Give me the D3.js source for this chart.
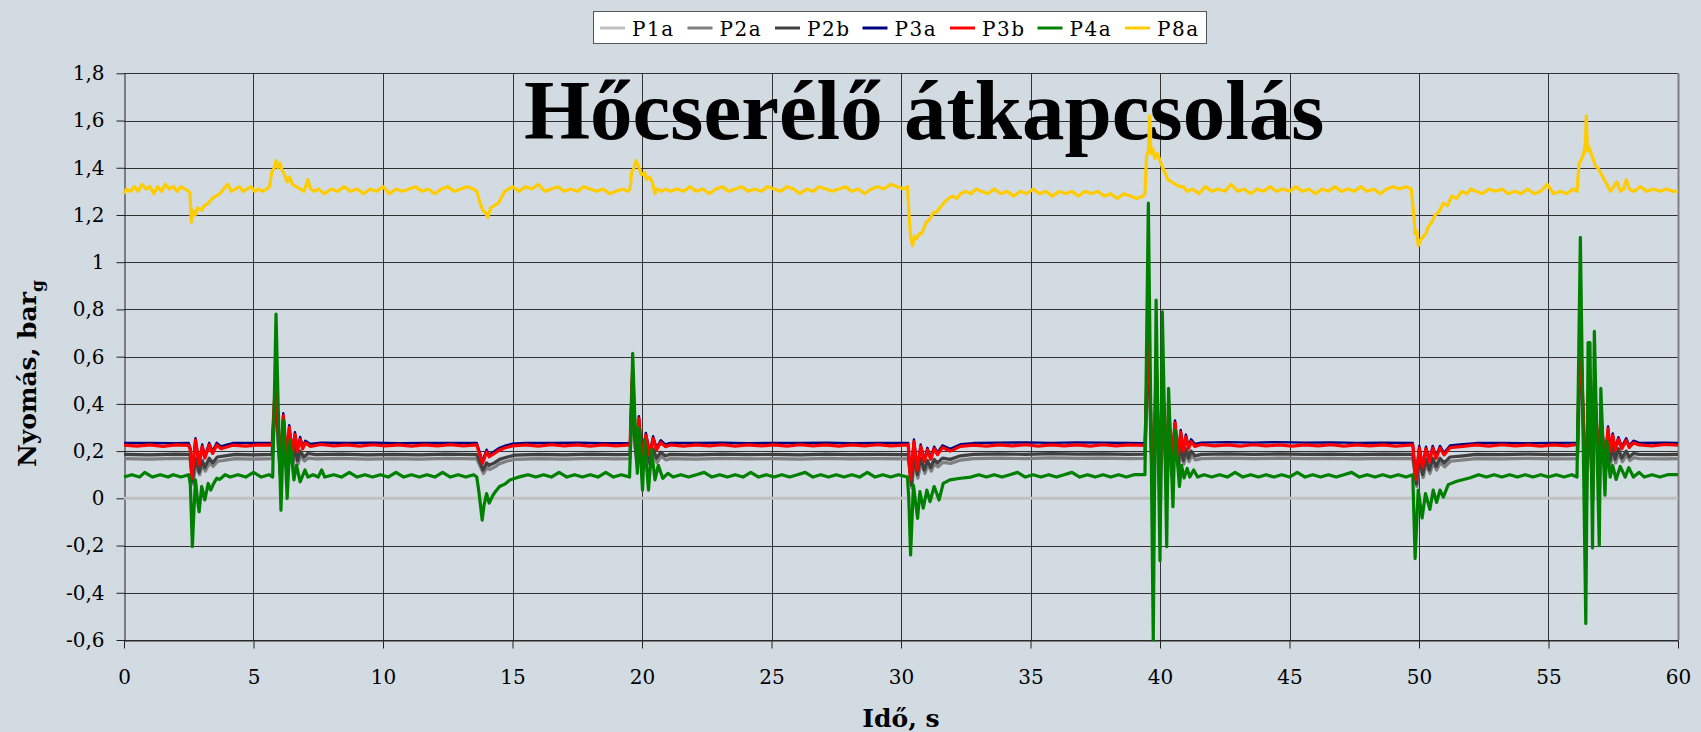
<!DOCTYPE html>
<html>
<head>
<meta charset="utf-8">
<script src="https://cdn.jsdelivr.net/npm/d3@7"></script>
<style>
  body { margin: 0; background: #d2dae2; }
  svg { display: block; }
</style>
</head>
<body>
<div id="chart"></div>
<script>
// series names and colours (legend order = drawing order)
var seriesNames = ["P1a", "P2a", "P2b", "P3a", "P3b", "P4a", "P8a"];
var seriesColors = ["#c0c0c0", "#808080", "#404040", "#000080", "#ff0000", "#008000", "#ffcc00"];
var seriesWidths = [3, 3.2, 3.2, 2.4, 3.2, 3.2, 3.2];

var xTicks = [0, 5, 10, 15, 20, 25, 30, 35, 40, 45, 50, 55, 60];
var yTicks = [-0.6, -0.4, -0.2, 0, 0.2, 0.4, 0.6, 0.8, 1, 1.2, 1.4, 1.6, 1.8];
var yTickLabels = ["-0,6", "-0,4", "-0,2", "0", "0,2", "0,4", "0,6", "0,8", "1", "1,2", "1,4", "1,6", "1,8"];

// [time s, pressure barg]
var p1a = [[0, 0], [60, 0]];

var p2a = [
[0,0.168],[1,0.166],[2,0.169],[2.55,0.168],
[2.66,0.06],[2.78,0.15],[2.92,0.1],[3.04,0.145],[3.14,0.115],[3.3,0.15],[3.44,0.135],[3.62,0.157],[3.92,0.162],[4.3,0.168],[5.0,0.166],[5.72,0.168],
[5.8,0.32],[5.87,0.42],[5.95,0.23],[6.05,0.09],[6.17,0.26],[6.3,0.11],[6.4,0.23],[6.52,0.135],[6.62,0.2],[6.72,0.145],[6.82,0.18],[6.97,0.158],[7.1,0.17],[7.4,0.167],
[8.4,0.169],[9.4,0.166],[10.4,0.168],[11.4,0.166],[12.4,0.169],[13.62,0.167],
[13.88,0.105],[14.02,0.13],[14.12,0.122],[14.32,0.133],[14.5,0.147],[14.8,0.158],[15.1,0.165],[16.0,0.168],[17.0,0.166],[18.0,0.169],[19.0,0.167],[19.54,0.168],
[19.6,0.37],[19.64,0.47],[19.72,0.23],[19.82,0.13],[19.9,0.27],[20.02,0.125],[20.17,0.2],[20.32,0.135],[20.45,0.19],[20.58,0.152],[20.74,0.178],[20.92,0.163],[21.1,0.168],
[22.1,0.166],[23.1,0.169],[24.1,0.167],[25.1,0.168],[26.1,0.166],[27.1,0.169],[28.1,0.167],[29.1,0.168],[30.28,0.167],
[30.42,0.045],[30.52,0.16],[30.65,0.085],[30.78,0.152],[30.92,0.105],[31.04,0.143],[31.17,0.115],[31.3,0.148],[31.43,0.133],[31.62,0.152],[31.92,0.148],[32.3,0.162],[32.8,0.168],
[33.8,0.17],[34.8,0.168],[35.8,0.171],[36.8,0.169],[37.8,0.17],[38.8,0.168],[39.42,0.169],
[39.57,0.66],[39.67,0.23],[39.76,-0.1],[39.87,0.5],[40.02,-0.03],[40.11,0.46],[40.28,0.01],[40.35,0.32],[40.47,0.09],[40.6,0.25],[40.72,0.125],[40.82,0.21],[40.92,0.145],[41.02,0.19],[41.12,0.155],[41.22,0.182],[41.37,0.163],[41.6,0.168],
[42.6,0.17],[43.6,0.168],[44.6,0.17],[45.6,0.168],[46.6,0.169],[47.6,0.167],[48.6,0.169],[49.76,0.168],
[49.92,0.05],[50.03,0.152],[50.16,0.088],[50.29,0.148],[50.42,0.105],[50.55,0.152],[50.68,0.12],[50.83,0.152],[50.99,0.133],[51.22,0.157],[51.72,0.163],[52.2,0.168],
[53.2,0.167],[54.2,0.169],[55.2,0.167],[56.12,0.168],
[56.25,0.66],[56.46,-0.06],[56.57,0.42],[56.72,-0.01],[56.79,0.42],[56.98,0.05],[57.04,0.28],[57.2,0.1],[57.32,0.23],[57.4,0.145],[57.5,0.205],[57.59,0.15],[57.72,0.19],[57.85,0.155],[58.02,0.182],[58.14,0.16],[58.3,0.172],[58.5,0.168],[59.5,0.167],[60,0.168]
];

var p2b = [
[0,0.186],[1,0.184],[2,0.187],[2.55,0.186],
[2.64,0.07],[2.76,0.17],[2.9,0.11],[3.02,0.16],[3.12,0.13],[3.29,0.17],[3.42,0.15],[3.6,0.175],[3.9,0.18],[4.3,0.186],[5.0,0.184],[5.72,0.186],
[5.8,0.35],[5.87,0.45],[5.95,0.25],[6.03,0.1],[6.15,0.29],[6.28,0.12],[6.38,0.25],[6.5,0.15],[6.6,0.22],[6.7,0.16],[6.8,0.2],[6.95,0.175],[7.1,0.19],[7.4,0.185],
[8.4,0.187],[9.4,0.184],[10.4,0.186],[11.4,0.184],[12.4,0.187],[13.62,0.185],
[13.86,0.12],[14.0,0.15],[14.1,0.14],[14.3,0.15],[14.5,0.165],[14.8,0.175],[15.1,0.183],[16.0,0.186],[17.0,0.184],[18.0,0.187],[19.0,0.185],[19.54,0.186],
[19.6,0.4],[19.64,0.5],[19.72,0.25],[19.8,0.15],[19.88,0.29],[20.0,0.14],[20.15,0.22],[20.3,0.15],[20.43,0.21],[20.56,0.17],[20.72,0.195],[20.9,0.18],[21.1,0.186],
[22.1,0.184],[23.1,0.187],[24.1,0.185],[25.1,0.186],[26.1,0.184],[27.1,0.187],[28.1,0.185],[29.1,0.186],[30.28,0.185],
[30.4,0.056],[30.5,0.18],[30.63,0.1],[30.76,0.17],[30.9,0.12],[31.02,0.16],[31.15,0.13],[31.28,0.165],[31.41,0.15],[31.6,0.17],[31.9,0.165],[32.3,0.18],[32.8,0.186],
[33.8,0.188],[34.8,0.186],[35.8,0.189],[36.8,0.187],[37.8,0.188],[38.8,0.186],[39.42,0.187],
[39.55,0.7],[39.65,0.25],[39.74,-0.1],[39.85,0.55],[40.0,-0.02],[40.09,0.5],[40.26,0.02],[40.33,0.35],[40.45,0.1],[40.58,0.27],[40.7,0.14],[40.8,0.23],[40.9,0.16],[41.0,0.21],[41.1,0.17],[41.2,0.2],[41.35,0.18],[41.6,0.186],
[42.6,0.188],[43.6,0.186],[44.6,0.188],[45.6,0.186],[46.6,0.187],[47.6,0.185],[48.6,0.187],[49.76,0.186],
[49.9,0.06],[50.01,0.17],[50.14,0.1],[50.27,0.165],[50.4,0.12],[50.53,0.17],[50.66,0.135],[50.81,0.17],[50.97,0.15],[51.2,0.175],[51.7,0.18],[52.2,0.186],
[53.2,0.185],[54.2,0.187],[55.2,0.185],[56.12,0.186],
[56.23,0.7],[56.44,-0.05],[56.55,0.45],[56.7,0.0],[56.77,0.45],[56.96,0.06],[57.02,0.3],[57.18,0.11],[57.3,0.25],[57.38,0.16],[57.48,0.225],[57.57,0.165],[57.7,0.21],[57.83,0.17],[58.0,0.2],[58.12,0.175],[58.28,0.19],[58.5,0.186],[59.5,0.185],[60,0.186]
];

var p3a = [
[0,0.234],[1,0.235],[2,0.233],[2.5,0.234],
[2.57,0.21],[2.62,0.095],[2.76,0.255],[2.9,0.15],[3.02,0.228],[3.12,0.18],[3.29,0.235],[3.42,0.2],[3.58,0.235],[3.75,0.22],[3.9,0.225],[4.2,0.234],[5.0,0.235],[5.72,0.234],
[5.8,0.41],[5.87,0.56],[5.95,0.31],[6.03,0.16],[6.15,0.36],[6.28,0.18],[6.38,0.31],[6.5,0.2],[6.6,0.28],[6.7,0.21],[6.8,0.26],[6.9,0.22],[7.0,0.244],[7.2,0.23],[7.6,0.236],
[8.6,0.234],[9.6,0.236],[10.6,0.233],[11.6,0.235],[12.6,0.234],[13.62,0.235],
[13.84,0.157],[14.0,0.206],[14.1,0.185],[14.3,0.199],[14.5,0.214],[14.75,0.224],[15.0,0.231],[15.5,0.235],[16.5,0.234],[17.5,0.236],[18.5,0.233],[19.54,0.235],
[19.6,0.46],[19.64,0.56],[19.72,0.31],[19.8,0.21],[19.88,0.348],[20.0,0.185],[20.15,0.277],[20.3,0.192],[20.43,0.263],[20.56,0.214],[20.72,0.246],[20.9,0.228],[21.1,0.235],
[22.1,0.234],[23.1,0.236],[24.1,0.233],[25.1,0.235],[26.1,0.234],[27.1,0.236],[28.1,0.233],[29.1,0.235],[30.28,0.234],
[30.37,0.087],[30.5,0.249],[30.63,0.129],[30.76,0.228],[30.9,0.164],[31.02,0.214],[31.15,0.174],[31.28,0.219],[31.41,0.194],[31.6,0.224],[31.9,0.21],[32.3,0.229],[32.8,0.234],
[33.8,0.236],[34.8,0.237],[35.8,0.235],[36.8,0.237],[37.8,0.236],[38.8,0.234],[39.42,0.233],
[39.55,0.76],[39.65,0.31],[39.74,-0.09],[39.85,0.61],[40.0,0.01],[40.09,0.56],[40.26,0.06],[40.33,0.41],[40.45,0.16],[40.58,0.33],[40.7,0.19],[40.8,0.29],[40.9,0.21],[41.0,0.27],[41.1,0.22],[41.2,0.25],[41.35,0.23],[41.6,0.236],
[42.6,0.238],[43.6,0.236],[44.6,0.238],[45.6,0.236],[46.6,0.237],[47.6,0.235],[48.6,0.236],[49.76,0.234],
[49.88,0.09],[50.01,0.222],[50.14,0.141],[50.27,0.219],[50.4,0.163],[50.53,0.222],[50.66,0.178],[50.81,0.222],[50.97,0.193],[51.2,0.224],[51.7,0.229],[52.2,0.234],
[53.2,0.235],[54.2,0.233],[55.2,0.235],[56.12,0.236],
[56.23,0.75],[56.44,0.01],[56.55,0.51],[56.7,0.06],[56.77,0.51],[56.96,0.11],[57.02,0.36],[57.18,0.16],[57.3,0.304],[57.38,0.208],[57.48,0.275],[57.57,0.212],[57.7,0.259],[57.83,0.219],[58.0,0.254],[58.12,0.224],[58.28,0.244],[58.5,0.235],[59.5,0.236],[60,0.234]
];

var p3b = [
[0,0.225],[0.5,0.221],[1.0,0.226],[1.5,0.22],[2.0,0.226],[2.5,0.224],
[2.57,0.2],[2.62,0.085],[2.76,0.247],[2.9,0.141],[3.02,0.219],[3.12,0.17],[3.29,0.226],[3.42,0.19],[3.58,0.226],[3.75,0.21],[3.9,0.215],[4.2,0.225],[4.7,0.221],[5.2,0.226],[5.72,0.225],
[5.8,0.4],[5.87,0.55],[5.95,0.3],[6.03,0.15],[6.15,0.35],[6.28,0.17],[6.38,0.3],[6.5,0.19],[6.6,0.27],[6.7,0.2],[6.8,0.25],[6.9,0.21],[7.0,0.235],[7.2,0.22],[7.6,0.228],
[8.1,0.222],[8.6,0.226],[9.1,0.221],[9.6,0.227],[10.1,0.222],[10.6,0.226],[11.1,0.221],[11.6,0.226],[12.1,0.222],[12.6,0.227],[13.1,0.222],[13.62,0.226],
[13.84,0.148],[14.0,0.197],[14.1,0.176],[14.3,0.19],[14.5,0.205],[14.75,0.215],[15.0,0.222],[15.5,0.226],[16.0,0.221],[16.5,0.227],[17.0,0.222],[17.5,0.226],[18.0,0.221],[18.5,0.226],[19.0,0.222],[19.54,0.226],
[19.6,0.45],[19.64,0.55],[19.72,0.3],[19.8,0.2],[19.88,0.339],[20.0,0.176],[20.15,0.268],[20.3,0.183],[20.43,0.254],[20.56,0.205],[20.72,0.237],[20.9,0.219],[21.1,0.226],
[21.6,0.221],[22.1,0.226],[22.6,0.222],[23.1,0.227],[23.6,0.221],[24.1,0.226],[24.6,0.222],[25.1,0.226],[25.6,0.221],[26.1,0.227],[26.6,0.222],[27.1,0.226],[27.6,0.221],[28.1,0.226],[28.6,0.222],[29.1,0.227],[29.6,0.222],[30.28,0.226],
[30.37,0.078],[30.5,0.24],[30.63,0.12],[30.76,0.219],[30.9,0.155],[31.02,0.205],[31.15,0.165],[31.28,0.21],[31.41,0.185],[31.6,0.215],[31.9,0.2],[32.3,0.22],[32.8,0.225],
[33.3,0.221],[33.8,0.226],[34.3,0.222],[34.8,0.227],[35.3,0.221],[35.8,0.226],[36.3,0.222],[36.8,0.226],[37.3,0.221],[37.8,0.227],[38.3,0.222],[38.8,0.226],[39.42,0.224],
[39.55,0.75],[39.65,0.3],[39.74,-0.1],[39.85,0.6],[40.0,0.0],[40.09,0.55],[40.26,0.05],[40.33,0.4],[40.45,0.15],[40.58,0.32],[40.7,0.18],[40.8,0.28],[40.9,0.2],[41.0,0.26],[41.1,0.21],[41.2,0.24],[41.35,0.22],[41.6,0.228],
[42.1,0.222],[42.6,0.226],[43.1,0.221],[43.6,0.227],[44.1,0.222],[44.6,0.226],[45.1,0.221],[45.6,0.226],[46.1,0.222],[46.6,0.227],[47.1,0.221],[47.6,0.226],[48.1,0.222],[48.6,0.226],[49.1,0.221],[49.76,0.226],
[49.88,0.08],[50.01,0.213],[50.14,0.132],[50.27,0.21],[50.4,0.154],[50.53,0.213],[50.66,0.169],[50.81,0.213],[50.97,0.184],[51.2,0.215],[51.7,0.22],[52.2,0.226],
[52.7,0.221],[53.2,0.227],[53.7,0.222],[54.2,0.226],[54.7,0.221],[55.2,0.226],[55.7,0.222],[56.12,0.228],
[56.23,0.74],[56.44,0.0],[56.55,0.5],[56.7,0.05],[56.77,0.5],[56.96,0.1],[57.02,0.35],[57.18,0.15],[57.3,0.295],[57.38,0.199],[57.48,0.266],[57.57,0.203],[57.7,0.25],[57.83,0.21],[58.0,0.245],[58.12,0.215],[58.28,0.235],[58.5,0.226],[59.0,0.222],[59.5,0.228],[60,0.225]
];

var p4a = [
[0,0.09],[0.3,0.1],[0.6,0.09],[0.8,0.11],[1.1,0.09],[1.4,0.1],[1.7,0.09],[1.9,0.1],[2.2,0.09],[2.5,0.1],
[2.56,0.06],[2.64,-0.205],[2.7,-0.05],[2.76,0.078],[2.83,0.0],[2.9,-0.057],[3.0,0.05],[3.12,-0.007],[3.25,0.063],[3.35,0.035],[3.45,0.06],[3.58,0.085],[3.7,0.08],[3.9,0.1],[4.1,0.09],[4.4,0.1],[4.7,0.09],[5.0,0.11],[5.3,0.09],[5.6,0.1],[5.74,0.09],
[5.8,0.4],[5.87,0.78],[5.95,0.4],[6.06,-0.05],[6.17,0.33],[6.3,0.0],[6.41,0.247],[6.56,0.078],[6.66,0.141],[6.8,0.07],[6.99,0.12],[7.1,0.09],[7.3,0.1],[7.5,0.09],[7.63,0.12],[7.75,0.09],
[8.1,0.1],[8.4,0.09],[8.7,0.11],[9.0,0.09],[9.3,0.1],[9.6,0.09],[9.9,0.1],[10.2,0.09],[10.5,0.11],[10.8,0.09],[11.1,0.1],[11.4,0.09],[11.7,0.1],[12.0,0.09],[12.3,0.11],[12.6,0.09],[12.9,0.1],[13.2,0.09],[13.5,0.1],[13.62,0.09],
[13.7,0.03],[13.83,-0.092],[13.9,-0.03],[14.0,0.02],[14.1,-0.02],[14.25,0.014],[14.35,0.03],[14.5,0.05],[14.7,0.06],[14.9,0.078],[15.1,0.085],[15.3,0.092],[15.6,0.1],[15.9,0.09],[16.2,0.1],[16.5,0.09],[16.8,0.11],[17.1,0.09],[17.4,0.1],[17.7,0.09],[18.0,0.1],[18.3,0.09],[18.6,0.11],[18.9,0.09],[19.2,0.1],[19.52,0.09],
[19.58,0.3],[19.64,0.614],[19.72,0.35],[19.82,0.106],[19.88,0.3],[20.02,0.035],[20.1,0.247],[20.25,0.035],[20.37,0.205],[20.5,0.078],[20.63,0.14],[20.8,0.085],[21.0,0.106],[21.2,0.09],
[21.5,0.1],[21.8,0.09],[22.1,0.1],[22.4,0.11],[22.7,0.09],[23.0,0.1],[23.3,0.09],[23.6,0.1],[23.9,0.09],[24.2,0.11],[24.5,0.09],[24.8,0.1],[25.1,0.09],[25.4,0.1],[25.7,0.09],[26.0,0.1],[26.3,0.11],[26.6,0.09],[26.9,0.1],[27.2,0.09],[27.5,0.1],[27.8,0.09],[28.1,0.1],[28.4,0.09],[28.7,0.11],[29.0,0.09],[29.3,0.1],[29.6,0.09],[29.9,0.1],[30.25,0.09],
[30.3,0.0],[30.37,-0.24],[30.48,0.056],[30.64,-0.085],[30.73,0.028],[30.86,-0.042],[31.0,0.035],[31.12,-0.014],[31.28,0.05],[31.47,-0.007],[31.63,0.063],[31.89,0.078],[32.3,0.085],[32.7,0.09],[33.0,0.1],
[33.3,0.09],[33.6,0.1],[33.9,0.09],[34.2,0.1],[34.5,0.11],[34.8,0.09],[35.1,0.1],[35.4,0.09],[35.7,0.1],[36.0,0.09],[36.3,0.1],[36.6,0.11],[36.9,0.09],[37.2,0.1],[37.5,0.09],[37.8,0.1],[38.1,0.09],[38.4,0.1],[38.7,0.09],[39.0,0.1],[39.42,0.1],
[39.55,1.25],[39.65,0.3],[39.74,-0.6],[39.8,0.2],[39.85,0.84],[39.92,0.3],[40.0,-0.264],[40.05,0.3],[40.09,0.79],[40.18,0.3],[40.26,-0.205],[40.33,0.466],[40.5,-0.035],[40.58,0.29],[40.75,0.05],[40.83,0.14],[40.93,0.086],[41.05,0.127],[41.15,0.09],[41.3,0.12],[41.45,0.09],[41.7,0.1],
[42.0,0.09],[42.3,0.1],[42.6,0.09],[42.9,0.11],[43.2,0.09],[43.5,0.1],[43.8,0.09],[44.1,0.1],[44.4,0.09],[44.7,0.1],[45.0,0.09],[45.3,0.11],[45.6,0.09],[45.9,0.1],[46.2,0.09],[46.5,0.1],[46.8,0.09],[47.1,0.1],[47.4,0.11],[47.7,0.09],[48.0,0.1],[48.3,0.09],[48.6,0.1],[48.9,0.09],[49.2,0.1],[49.5,0.09],[49.76,0.1],
[49.85,-0.255],[49.97,0.035],[50.12,-0.083],[50.25,0.02],[50.42,-0.047],[50.55,0.035],[50.68,-0.017],[50.81,0.035],[50.94,0.005],[51.13,0.058],[51.46,0.072],[51.98,0.087],[52.3,0.1],
[52.6,0.09],[52.9,0.1],[53.2,0.09],[53.5,0.1],[53.8,0.09],[54.1,0.1],[54.4,0.09],[54.7,0.1],[55.0,0.09],[55.3,0.1],[55.6,0.09],[55.9,0.1],[56.1,0.09],
[56.23,1.105],[56.44,-0.53],[56.53,0.66],[56.6,0.66],[56.7,-0.21],[56.77,0.707],[56.96,-0.2],[57.02,0.466],[57.18,0.013],[57.25,0.243],[57.38,0.09],[57.48,0.139],[57.61,0.08],[57.77,0.135],[57.96,0.09],[58.1,0.13],[58.28,0.09],[58.5,0.11],[58.7,0.09],[59.0,0.1],[59.3,0.09],[59.6,0.1],[60,0.1]
];

var p8a = [
[0,1.29],[0.1,1.31],[0.25,1.3],[0.4,1.32],[0.55,1.3],[0.7,1.33],[0.85,1.31],[1.0,1.32],[1.15,1.29],[1.3,1.32],[1.45,1.3],[1.6,1.33],[1.75,1.31],[1.9,1.32],[2.05,1.3],[2.2,1.32],[2.35,1.31],[2.5,1.3],
[2.55,1.29],[2.6,1.17],[2.66,1.22],[2.75,1.2],[2.85,1.23],[3.0,1.22],[3.1,1.24],[3.25,1.25],[3.4,1.27],[3.55,1.28],[3.7,1.29],[3.85,1.31],[4.0,1.33],[4.15,1.3],[4.3,1.31],[4.45,1.32],[4.6,1.3],[4.75,1.31],[4.9,1.32],[5.05,1.3],[5.2,1.31],[5.35,1.3],[5.5,1.31],
[5.62,1.32],[5.7,1.38],[5.8,1.4],[5.87,1.43],[5.95,1.4],[6.02,1.42],[6.1,1.39],[6.2,1.37],[6.3,1.34],[6.4,1.36],[6.5,1.33],[6.65,1.32],[6.8,1.31],[6.95,1.3],[7.1,1.35],[7.2,1.31],[7.35,1.3],[7.5,1.31],
[7.75,1.29],[8.0,1.31],[8.25,1.3],[8.5,1.32],[8.75,1.3],[9.0,1.31],[9.25,1.29],[9.5,1.31],[9.75,1.3],[10.0,1.32],[10.25,1.29],[10.5,1.31],[10.75,1.3],[11.0,1.31],[11.25,1.32],[11.5,1.3],[11.75,1.31],[12.0,1.29],[12.25,1.31],[12.5,1.32],[12.75,1.3],[13.0,1.31],[13.25,1.32],[13.5,1.31],
[13.62,1.3],[13.75,1.25],[13.85,1.22],[13.95,1.21],[14.05,1.19],[14.15,1.23],[14.3,1.24],[14.45,1.25],[14.6,1.28],[14.7,1.3],[14.85,1.31],[15.0,1.32],
[15.25,1.3],[15.5,1.32],[15.75,1.31],[16.0,1.33],[16.25,1.3],[16.5,1.31],[16.75,1.32],[17.0,1.3],[17.25,1.31],[17.5,1.3],[17.75,1.32],[18.0,1.31],[18.25,1.3],[18.5,1.31],[18.75,1.29],[19.0,1.3],[19.25,1.31],[19.45,1.3],
[19.54,1.31],[19.6,1.38],[19.7,1.4],[19.77,1.43],[19.85,1.41],[19.98,1.37],[20.1,1.38],[20.18,1.35],[20.3,1.36],[20.4,1.34],[20.5,1.29],[20.6,1.31],[20.75,1.3],[20.9,1.31],
[21.1,1.3],[21.35,1.31],[21.6,1.3],[21.85,1.32],[22.1,1.3],[22.35,1.31],[22.6,1.29],[22.85,1.31],[23.1,1.32],[23.35,1.3],[23.6,1.31],[23.85,1.32],[24.1,1.3],[24.35,1.31],[24.6,1.3],[24.85,1.32],[25.1,1.31],[25.35,1.3],[25.6,1.32],[25.85,1.31],[26.1,1.29],[26.35,1.31],[26.6,1.3],[26.85,1.32],[27.1,1.31],[27.35,1.3],[27.6,1.31],[27.85,1.32],[28.1,1.3],[28.35,1.31],[28.6,1.29],[28.85,1.31],[29.1,1.32],[29.35,1.31],[29.6,1.33],[29.85,1.32],[30.1,1.31],[30.25,1.32],
[30.32,1.18],[30.37,1.11],[30.45,1.07],[30.52,1.11],[30.6,1.1],[30.7,1.12],[30.79,1.12],[30.9,1.15],[30.98,1.17],[31.1,1.18],[31.24,1.21],[31.35,1.21],[31.5,1.23],[31.65,1.25],[31.83,1.27],[32.0,1.28],[32.15,1.27],[32.3,1.29],[32.5,1.3],[32.7,1.29],[32.9,1.31],[33.1,1.3],
[33.35,1.29],[33.6,1.31],[33.85,1.29],[34.1,1.3],[34.35,1.28],[34.6,1.3],[34.85,1.29],[35.1,1.31],[35.35,1.29],[35.6,1.3],[35.85,1.28],[36.1,1.3],[36.35,1.29],[36.6,1.3],[36.85,1.28],[37.1,1.3],[37.35,1.29],[37.6,1.3],[37.85,1.28],[38.1,1.29],[38.35,1.27],[38.6,1.29],[38.85,1.28],[39.1,1.27],[39.35,1.28],
[39.42,1.29],[39.48,1.45],[39.55,1.47],[39.6,1.62],[39.65,1.46],[39.72,1.48],[39.8,1.44],[39.9,1.46],[40.0,1.43],[40.1,1.4],[40.2,1.38],[40.3,1.35],[40.45,1.34],[40.6,1.33],[40.75,1.32],[40.9,1.32],[41.05,1.3],
[41.25,1.31],[41.5,1.29],[41.75,1.32],[42.0,1.3],[42.25,1.31],[42.5,1.3],[42.75,1.33],[43.0,1.3],[43.25,1.31],[43.5,1.29],[43.75,1.31],[44.0,1.3],[44.25,1.32],[44.5,1.3],[44.75,1.31],[45.0,1.3],[45.25,1.32],[45.5,1.3],[45.75,1.31],[46.0,1.29],[46.25,1.31],[46.5,1.3],[46.75,1.32],[47.0,1.3],[47.25,1.31],[47.5,1.3],[47.75,1.32],[48.0,1.3],[48.25,1.31],[48.5,1.29],[48.75,1.31],[49.0,1.32],[49.25,1.31],[49.5,1.32],[49.7,1.31],
[49.8,1.2],[49.85,1.12],[49.92,1.13],[49.97,1.07],[50.05,1.09],[50.17,1.11],[50.27,1.12],[50.36,1.15],[50.5,1.17],[50.62,1.2],[50.75,1.21],[50.94,1.25],[51.1,1.24],[51.26,1.28],[51.45,1.27],[51.65,1.3],[51.85,1.29],[52.0,1.31],[52.2,1.3],
[52.45,1.29],[52.7,1.31],[52.95,1.3],[53.2,1.31],[53.45,1.29],[53.7,1.3],[53.95,1.29],[54.2,1.31],[54.45,1.29],[54.7,1.3],[54.95,1.33],[55.2,1.29],[55.45,1.3],[55.7,1.29],[55.95,1.31],[56.1,1.3],
[56.18,1.42],[56.25,1.43],[56.36,1.46],[56.42,1.5],[56.46,1.62],[56.5,1.47],[56.55,1.49],[56.64,1.46],[56.72,1.44],[56.8,1.41],[56.9,1.4],[57.0,1.38],[57.1,1.36],[57.2,1.34],[57.3,1.32],[57.4,1.3],[57.52,1.32],[57.64,1.34],[57.78,1.3],[57.9,1.31],[58.0,1.35],[58.12,1.31],[58.3,1.3],
[58.55,1.32],[58.8,1.3],[59.05,1.31],[59.3,1.3],[59.55,1.31],[59.8,1.3],[60,1.3]
];

var seriesData = [p1a, p2a, p2b, p3a, p3b, p4a, p8a];

// layout
var W = 1701, H = 732;
var plot = { left: 124, right: 1678, top: 73.3, bottom: 640 };

var svg = d3.select("#chart")
    .append("svg")
    .attr("width", W)
    .attr("height", H);

var x = d3.scaleLinear()
    .domain([0, 60])
    .range([plot.left, plot.right]);

var y = d3.scaleLinear()
    .domain([-0.6, 1.8])
    .range([plot.bottom, plot.top]);

// grid
svg.append("g")
    .selectAll("line")
    .data(yTicks)
    .enter()
    .append("line")
    .attr("x1", plot.left)
    .attr("x2", plot.right)
    .attr("y1", function (d) { return Math.round(y(d)) + 0.5; })
    .attr("y2", function (d) { return Math.round(y(d)) + 0.5; })
    .attr("stroke", "#333")
    .attr("stroke-width", 1);

svg.append("g")
    .selectAll("line")
    .data(xTicks.slice(1))
    .enter()
    .append("line")
    .attr("x1", function (d) { return Math.round(x(d)) + 0.5; })
    .attr("x2", function (d) { return Math.round(x(d)) + 0.5; })
    .attr("y1", plot.top)
    .attr("y2", plot.bottom)
    .attr("stroke", function (d) { return d === 60 ? "#808080" : "#333"; })
    .attr("stroke-width", function (d) { return d === 60 ? 2 : 1; });

// axes
svg.append("g")
    .attr("transform", "translate(" + (plot.left + 0.5) + ",0)")
    .call(d3.axisLeft(y)
        .tickValues(yTicks)
        .tickFormat(function (d, i) { return yTickLabels[i]; })
        .tickSize(8)
        .tickPadding(12)
        .tickSizeOuter(0));

svg.append("g")
    .attr("transform", "translate(0," + (Math.round(plot.bottom) + 0.5) + ")")
    .call(d3.axisBottom(x)
        .tickValues(xTicks)
        .tickFormat(function (d) { return d; })
        .tickSize(8)
        .tickPadding(21)
        .tickSizeOuter(0));

svg.selectAll(".tick text")
    .style("font-family", "'DejaVu Serif', serif")
    .style("font-size", "20px")
    .attr("fill", "#000");
svg.selectAll(".domain, .tick line").attr("stroke", "#222");

// series
var line = d3.line()
    .x(function (d) { return x(d[0]); })
    .y(function (d) { return y(d[1]); });

svg.append("g")
    .selectAll("path")
    .data(seriesData)
    .enter()
    .append("path")
    .attr("d", line)
    .attr("fill", "none")
    .attr("stroke", function (d, i) { return seriesColors[i]; })
    .attr("stroke-width", function (d, i) { return seriesWidths[i]; })
    .attr("stroke-linejoin", "round");

// title
svg.append("text")
    .attr("x", 524)
    .attr("y", 139)
    .style("font-family", "'Liberation Serif', serif")
    .style("font-weight", "bold")
    .style("font-size", "85px")
    .text("Hőcserélő átkapcsolás");

// axis titles
svg.append("text")
    .attr("x", (plot.left + plot.right) / 2)
    .attr("y", 727)
    .attr("text-anchor", "middle")
    .style("font-family", "'DejaVu Serif', serif")
    .style("font-weight", "bold")
    .style("font-size", "25px")
    .text("Idő, s");

var yTitle = svg.append("text")
    .attr("transform", "translate(36," + ((plot.top + plot.bottom) / 2 + 17) + ") rotate(-90)")
    .attr("text-anchor", "middle")
    .style("font-family", "'DejaVu Serif', serif")
    .style("font-weight", "bold")
    .style("font-size", "25px");
yTitle.append("tspan").text("Nyomás, bar");
yTitle.append("tspan")
    .attr("dy", 7)
    .style("font-size", "17px")
    .text("g");

// legend
var legend = svg.append("g");
legend.append("rect")
    .attr("x", 593.5)
    .attr("y", 11.5)
    .attr("width", 613)
    .attr("height", 32)
    .attr("fill", "#fff")
    .attr("stroke", "#555");

var items = legend.selectAll("g.item")
    .data(seriesNames)
    .enter()
    .append("g")
    .attr("class", "item")
    .attr("transform", function (d, i) { return "translate(" + (600 + i * 87.5) + ",0)"; });

items.append("line")
    .attr("x1", 0)
    .attr("x2", 25)
    .attr("y1", 28)
    .attr("y2", 28)
    .attr("stroke", function (d, i) { return seriesColors[i]; })
    .attr("stroke-width", 3);

items.append("text")
    .attr("x", 32)
    .attr("y", 36)
    .style("font-family", "'DejaVu Serif', serif")
    .style("font-size", "20px")
    .style("letter-spacing", "1.5px")
    .text(function (d) { return d; });
</script>
</body>
</html>
